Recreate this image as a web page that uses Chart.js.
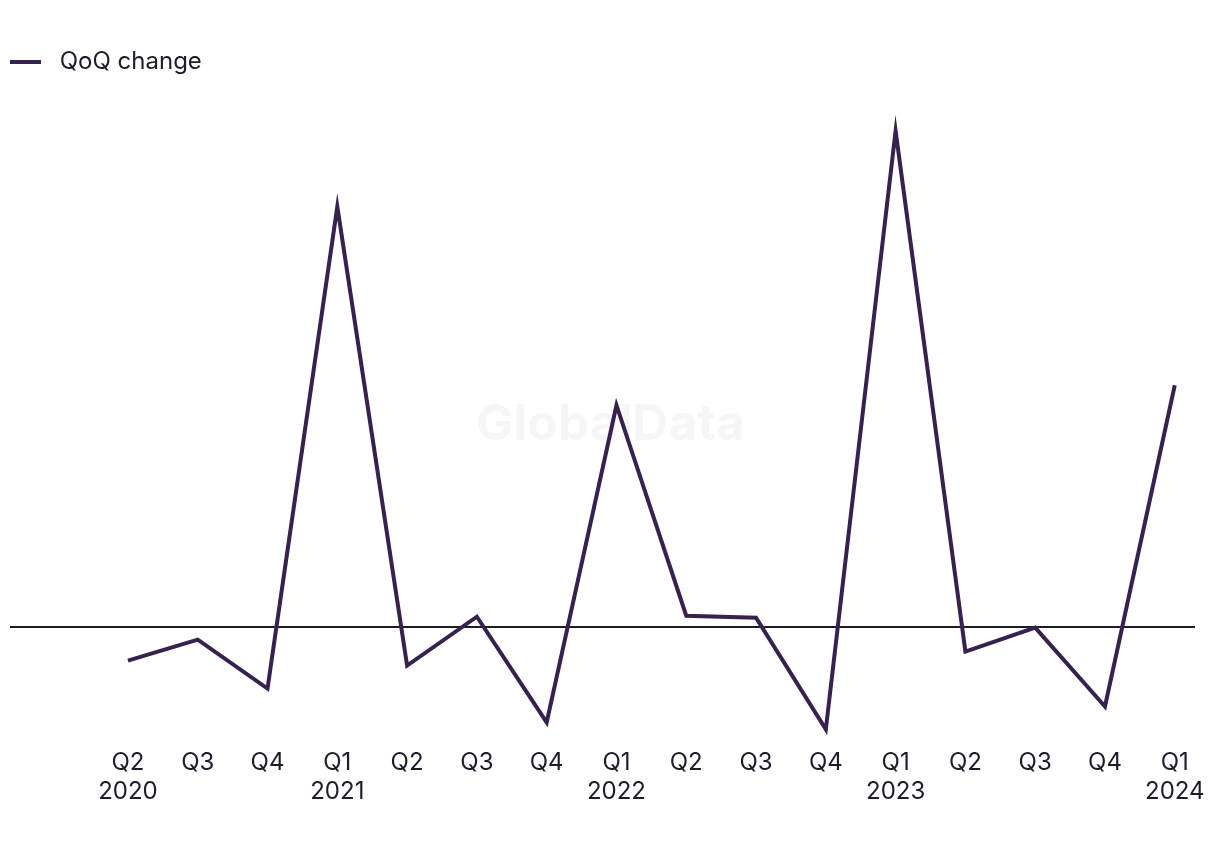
<!DOCTYPE html>
<html>
<head>
<meta charset="utf-8">
<script src="https://cdn.jsdelivr.net/npm/chart.js@4/dist/chart.umd.min.js"></script>
<style>
    html, body { margin: 0; padding: 0; background: #ffffff; }
    #wrap { width: 1220px; height: 850px; position: relative; }
</style>
</head>
<body>
<div id="wrap"><canvas id="qoqChart"></canvas></div>
<script>
const quarters = ["Q2", "Q3", "Q4", "Q1", "Q2", "Q3", "Q4", "Q1", "Q2", "Q3", "Q4", "Q1", "Q2", "Q3", "Q4", "Q1"];
const years = ["2020", "", "", "2021", "", "", "", "2022", "", "", "", "2023", "", "", "", "2024"];
const qoqChange = [-3.4, -1.3, -6.2, 42.1, -3.9, 1.0, -9.6, 22.2, 1.1, 0.9, -10.3, 49.7, -2.5, -0.1, -8.0, 24.2];

const lineColor = "#36214f";
const textColor = "#1c1c2b";
const fontFamily = "Inter, 'Noto Sans', sans-serif";

// faint watermark behind the line
const watermark = {
    id: "watermark",
    beforeDatasetsDraw(chart) {
        const { ctx, chartArea } = chart;
        ctx.save();
        ctx.font = "bold 50px " + fontFamily;
        ctx.fillStyle = "rgba(0, 0, 0, 0.035)";
        ctx.textAlign = "center";
        ctx.textBaseline = "middle";
        ctx.fillText("GlobalData", (chartArea.left + chartArea.right) / 2 + 8, chart.scales.y.getPixelForValue(20.2));
        ctx.restore();
    },
};

new Chart(document.getElementById("qoqChart"), {
    type: "line",
    data: {
        datasets: [
            {
                label: "QoQ change",
                data: qoqChange.map((v, i) => ({ x: i, y: v })),
                borderColor: lineColor,
                backgroundColor: lineColor,
                borderWidth: 4,
                pointRadius: 0,
                tension: 0,
                borderJoinStyle: "miter",
            },
        ],
    },
    options: {
        responsive: true,
        maintainAspectRatio: false,
        animation: false,
        layout: {
            padding: { left: 10, right: 25, top: 50, bottom: 40 },
        },
        plugins: {
            legend: {
                position: "top",
                align: "start",
                labels: {
                    usePointStyle: true,
                    pointStyle: "line",
                    pointStyleWidth: 31,
                    color: textColor,
                    font: { family: fontFamily, size: 24 },
                    padding: 0,
                    generateLabels(chart) {
                        // a bit more room between the swatch and the text
                        return Chart.defaults.plugins.legend.labels.generateLabels(chart).map((item) => {
                            item.text = " " + item.text;
                            return item;
                        });
                    },
                },
            },
            tooltip: { enabled: false },
        },
        scales: {
            x: {
                type: "linear",
                min: -1.69,
                max: 15.29,
                afterBuildTicks(axis) {
                    axis.ticks = quarters.map((q, i) => ({ value: i }));
                },
                ticks: {
                    color: textColor,
                    font: { family: fontFamily, size: 24 },
                    maxRotation: 0,
                    autoSkip: false,
                    padding: 4,
                    callback: (value) => {
                        const i = Math.round(value);
                        return years[i] ? [quarters[i], years[i]] : [quarters[i], " "];
                    },
                },
                grid: { display: false },
                border: { display: false },
            },
            y: {
                min: -11,
                max: 54.4,
                afterBuildTicks(axis) {
                    axis.ticks = [{ value: 0 }];
                },
                afterFit(axis) {
                    axis.width = 0;
                },
                ticks: { display: false },
                grid: {
                    color: textColor,
                    lineWidth: 2,
                    drawTicks: false,
                },
                border: { display: false },
            },
        },
    },
    plugins: [watermark],
});
</script>
</body>
</html>
